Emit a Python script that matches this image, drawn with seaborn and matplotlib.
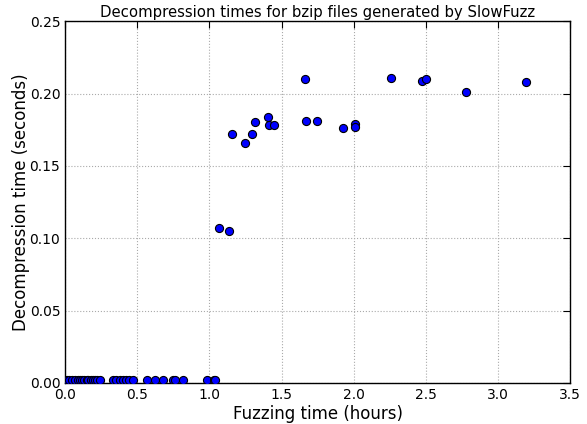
import numpy as np
import pandas as pd
import matplotlib
matplotlib.use("Agg")
import matplotlib.pyplot as plt
import seaborn as sns

# fast runs that stay near zero
low_hours = [0.0, 0.01, 0.03, 0.05, 0.07, 0.09, 0.10, 0.12, 0.13, 0.15, 0.16, 0.18, 0.19,
             0.21, 0.22, 0.24, 0.33, 0.35, 0.38, 0.40, 0.42, 0.44, 0.47,
             0.57, 0.62, 0.68, 0.75, 0.76, 0.82, 0.98, 1.03, 1.04]
low_times = [0.002] * len(low_hours)

# slow runs after the jump
high_hours = [1.067, 1.137, 1.159, 1.245, 1.296, 1.319, 1.407, 1.416, 1.446,
              1.665, 1.670, 1.748, 1.929, 2.008, 2.008, 2.257, 2.472, 2.502, 2.777, 3.195]
high_times = [0.107, 0.105, 0.172, 0.166, 0.172, 0.180, 0.184, 0.178, 0.178,
              0.210, 0.181, 0.181, 0.176, 0.179, 0.177, 0.211, 0.209, 0.210, 0.201, 0.208]

df = pd.DataFrame({
    "hours": low_hours + high_hours,
    "time": low_times + high_times,
})

sns.set_style("white")
plt.rcParams["font.family"] = ["DejaVu Sans"]
plt.rcParams["text.color"] = "black"
plt.rcParams["axes.labelcolor"] = "black"

fig, ax = plt.subplots(figsize=(5.87, 4.24), dpi=100)
fig.subplots_adjust(left=0.111, right=0.971, top=0.950, bottom=0.097)

sns.scatterplot(data=df, x="hours", y="time", ax=ax, color="#0000ff",
                edgecolor="black", linewidth=0.8, s=34, zorder=3)

ax.set_xlim(0, 3.5)
ax.set_ylim(0, 0.25)
xt = np.arange(0, 3.51, 0.5)
yt = np.arange(0, 0.251, 0.05)
ax.set_xticks(xt)
ax.set_yticks(yt)
ax.set_xticklabels([f"{v:.1f}" for v in xt])
ax.set_yticklabels([f"{v:.2f}" for v in yt])
ax.tick_params(axis="both", labelsize=10, direction="in", length=5, width=0.8,
               top=True, right=True, colors="black", labelcolor="black")
ax.grid(True, linestyle=":", color="#aaaaaa", linewidth=0.8)
for sp in ax.spines.values():
    sp.set_color("black")
    sp.set_linewidth(1.0)

ax.set_title("Decompression times for bzip files generated by SlowFuzz", fontsize=10.75, pad=3)
ax.set_xlabel("Fuzzing time (hours)", fontsize=12, labelpad=2)
ax.set_ylabel("Decompression time (seconds)", fontsize=12, labelpad=0)

plt.savefig("out.png", dpi=100)
